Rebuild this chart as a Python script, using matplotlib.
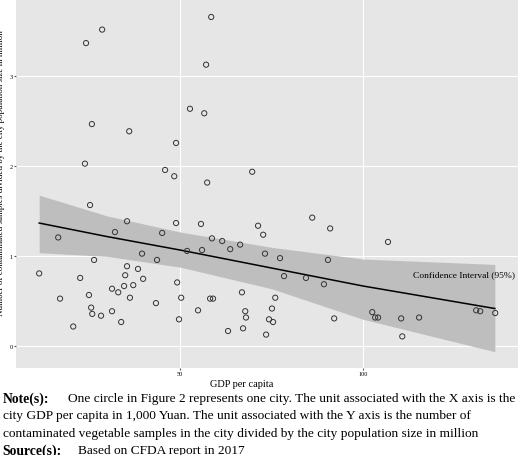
import numpy as np
import matplotlib.pyplot as plt

plt.rcParams['font.family'] = ['Liberation Serif', 'DejaVu Serif']

gdp = [24.3, 28.7, 58.5, 57.1, 25.9, 36.1, 52.7, 56.6, 48.9, 24.0, 45.9, 48.4, 57.4, 69.7,
       25.4, 11.5, 16.7, 17.2, 20.8, 22.7, 25.1, 25.7, 26.0, 26.5, 28.4, 31.4, 31.4, 32.2,
       33.1, 33.9, 34.7, 35.0, 35.5, 35.5, 36.3, 37.2, 38.5, 39.6, 39.9, 43.4, 43.7, 45.1,
       48.9, 49.2, 49.7, 50.3, 51.9, 54.9, 55.7, 56.0, 58.2, 59.0, 58.7, 61.5, 63.1, 63.7,
       66.4, 66.9, 67.2, 67.8, 68.0, 71.3, 72.7, 73.2, 86.1, 91.0, 106.8, 77.3, 78.4, 84.4,
       89.3, 90.4, 76.0, 75.1, 74.3, 75.4, 73.5, 92.1, 102.5, 103.3, 104.1, 110.4, 110.7,
       115.3, 130.9, 132.0, 136.1]
samples = [3.37, 3.52, 3.66, 3.13, 2.47, 2.39, 2.64, 2.59, 2.26, 2.03, 1.96, 1.89, 1.82, 1.94,
           1.57, 0.81, 1.21, 0.53, 0.22, 0.76, 0.57, 0.43, 0.36, 0.96, 0.34, 0.64, 0.39, 1.27,
           0.60, 0.27, 0.67, 0.79, 0.89, 1.39, 0.54, 0.68, 0.86, 1.03, 0.75, 0.48, 0.96, 1.26,
           1.37, 0.71, 0.30, 0.54, 1.06, 0.40, 1.36, 1.07, 0.53, 0.53, 1.20, 1.17, 0.17, 1.08,
           1.13, 0.60, 0.20, 0.39, 0.32, 1.34, 1.24, 1.03, 1.43, 1.31, 1.16, 0.98, 0.78, 0.76,
           0.69, 0.96, 0.54, 0.42, 0.30, 0.27, 0.13, 0.31, 0.38, 0.32, 0.32, 0.31, 0.11,
           0.32, 0.40, 0.39, 0.37]

# fitted line and 95% band
fit_x = [11.5, 30, 50, 75, 100, 136]
fit_y = [1.37, 1.22, 1.07, 0.87, 0.67, 0.42]
band_lo = [1.04, 1.00, 0.88, 0.64, 0.30, -0.06]
band_hi = [1.68, 1.45, 1.27, 1.10, 0.97, 0.91]

fig = plt.figure(figsize=(5.2, 4.56), dpi=100)
ax = fig.add_axes([0.031, 0.191, 0.965, 0.809])
ax.set_facecolor('#e6e6e6')
ax.grid(True, color='white', linewidth=0.8)
ax.set_axisbelow(True)
for s in ax.spines.values():
    s.set_visible(False)

ax.fill_between(fit_x, band_lo, band_hi, color='#bebebe', linewidth=0, zorder=2)
ax.plot(fit_x, fit_y, color='black', linewidth=1.1, zorder=3)
ax.scatter(gdp, samples, s=14, facecolors='none', edgecolors='#333333', linewidths=0.7, zorder=4)
ax.text(141.5, 0.8, 'Confidence Interval (95%)', fontsize=6.8, ha='right', va='center', zorder=5)

ax.set_xlim(5.2, 142.3)
ax.set_ylim(-0.24, 3.86)
ax.set_xticks([50, 100])
ax.set_yticks([0, 1, 2, 3])
ax.tick_params(labelsize=4.5, length=1.5, color='#555555', pad=1)
ax.set_ylabel('Number of contaminated samples divided by the city population size in million',
              fontsize=6.5, labelpad=1)
ax.yaxis.set_label_coords(-0.022, 0.53)
ax.set_xlabel('GDP per capita', fontsize=7.5, labelpad=2)
ax.xaxis.set_label_coords(0.45, -0.03)

fs = 9.6
fig.text(0.005, 0.125, 'Note(s):', fontsize=fs + 0.2, fontweight='bold', va='center')
fig.text(0.13, 0.125, 'One circle in Figure 2 represents one city. The unit associated with the X axis is the',
         fontsize=fs, va='center')
fig.text(0.005, 0.087, 'city GDP per capita in 1,000 Yuan. The unit associated with the Y axis is the number of',
         fontsize=fs, va='center')
fig.text(0.005, 0.049, 'contaminated vegetable samples in the city divided by the city population size in million',
         fontsize=fs, va='center')
fig.text(0.005, 0.011, 'Source(s):', fontsize=fs + 0.2, fontweight='bold', va='center')
fig.text(0.15, 0.011, 'Based on CFDA report in 2017', fontsize=fs, va='center')

fig.savefig('out.png', dpi=100)
